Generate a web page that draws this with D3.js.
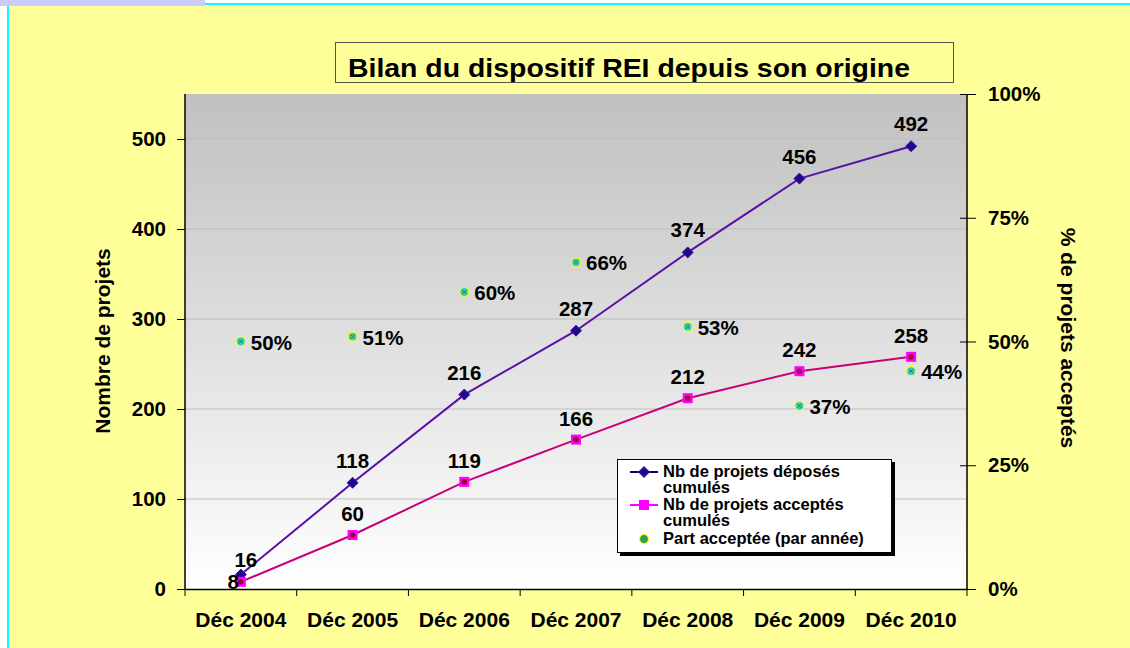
<!DOCTYPE html>
<meta charset="utf-8">
<head>
<style>
body { margin: 0; background: #fff; }
svg { display: block; }
text {
  font-family: "Liberation Sans", Arial, sans-serif;
  font-weight: bold;
  fill: #000;
}
.axis path, .axis line { stroke: #000; }
.axis text { font-family: "Liberation Sans", Arial, sans-serif; font-weight: bold; }
</style>
</head>
<body>
<svg width="1130" height="648"></svg>
<script src="https://cdn.jsdelivr.net/npm/d3@7"></script>
<script>

var years = ["Déc 2004", "Déc 2005", "Déc 2006", "Déc 2007", "Déc 2008", "Déc 2009", "Déc 2010"],
    deposes = [16, 118, 216, 287, 374, 456, 492],
    acceptes = [8, 60, 119, 166, 212, 242, 258],
    partAcceptee = [50, 51, 60, 66, 53, 37, 44];

var leftTicks = [0, 100, 200, 300, 400, 500],
    rightTicks = [0, 25, 50, 75, 100];

var svg = d3.select("svg");

// page frame
svg.append("rect").attr("x", 7).attr("y", 3).attr("width", 1123).attr("height", 645).attr("fill", "#00ffff");
svg.append("rect").attr("x", 9).attr("y", 5).attr("width", 1121).attr("height", 643).attr("fill", "#ffff99");
svg.append("rect").attr("x", 0).attr("y", 0).attr("width", 205).attr("height", 6).attr("fill", "#ccccff");

var plot = {left: 185, top: 94, right: 967, bottom: 589};

var x = d3.scaleBand().domain(years).range([plot.left, plot.right]),
    y = d3.scaleLinear().domain([0, 550]).range([plot.bottom, plot.top]),
    y2 = d3.scaleLinear().domain([0, 100]).range([plot.bottom, plot.top]);

var cx = function(i) { return x(years[i]) + x.bandwidth() / 2; };

// plot background gradient
var grad = svg.append("defs").append("linearGradient")
    .attr("id", "bg").attr("x1", 0).attr("y1", 0).attr("x2", 0).attr("y2", 1);
grad.append("stop").attr("offset", "0%").attr("stop-color", "#c0c0c0");
grad.append("stop").attr("offset", "100%").attr("stop-color", "#ffffff");

svg.append("rect")
    .attr("x", plot.left).attr("y", plot.top)
    .attr("width", plot.right - plot.left).attr("height", plot.bottom - plot.top)
    .attr("fill", "url(#bg)");

// gridlines
svg.append("g").selectAll("line")
    .data(leftTicks.filter(function(d) { return d > 0; }))
  .enter().append("line")
    .attr("x1", plot.left).attr("x2", plot.right)
    .attr("y1", function(d) { return y(d); }).attr("y2", function(d) { return y(d); })
    .attr("stroke", "#bdbdbd").attr("stroke-width", 1);

// title
svg.append("rect")
    .attr("x", 335.5).attr("y", 42.5).attr("width", 618).attr("height", 40)
    .attr("fill", "#ffff99").attr("stroke", "#555").attr("stroke-width", 1);
svg.append("text")
    .attr("x", 348).attr("y", 77)
    .attr("font-size", 26)
    .attr("textLength", 562).attr("lengthAdjust", "spacingAndGlyphs")
    .text("Bilan du dispositif REI depuis son origine");

// axes
var xAxis = svg.append("g").attr("class", "axis")
    .attr("transform", "translate(0," + plot.bottom + ")")
    .call(d3.axisBottom(x).tickSize(0).tickPadding(23));
xAxis.selectAll("text").attr("font-size", 21).attr("fill", "#000");
xAxis.select(".domain").attr("stroke-width", 1.5);
xAxis.selectAll(".sep")
    .data(d3.range(years.length + 1))
  .enter().append("line")
    .attr("x1", function(i) { return plot.left + i * x.step(); })
    .attr("x2", function(i) { return plot.left + i * x.step(); })
    .attr("y1", 0).attr("y2", 7)
    .attr("stroke", "#000");

var yAxis = svg.append("g").attr("class", "axis")
    .attr("transform", "translate(" + plot.left + ",0)")
    .call(d3.axisLeft(y).tickValues(leftTicks).tickSize(8).tickPadding(11));
yAxis.selectAll("text").attr("font-size", 20.5).attr("fill", "#000");
yAxis.select(".domain").attr("d", "M0," + plot.top + "V" + plot.bottom).attr("stroke-width", 1.5);

var y2Axis = svg.append("g").attr("class", "axis")
    .attr("transform", "translate(" + plot.right + ",0)")
    .call(d3.axisRight(y2).tickValues(rightTicks).tickSize(9).tickPadding(12)
      .tickFormat(function(d) { return d + "%"; }));
y2Axis.selectAll(".tick line").attr("x1", -7);
y2Axis.selectAll("text").attr("font-size", 20.5).attr("fill", "#000");
y2Axis.select(".domain").attr("d", "M0," + plot.top + "V" + plot.bottom).attr("stroke-width", 1.5);

svg.append("text")
    .attr("transform", "translate(110,341) rotate(-90)")
    .attr("text-anchor", "middle").attr("font-size", 21)
    .text("Nombre de projets");
svg.append("text")
    .attr("transform", "translate(1061,338) rotate(90)")
    .attr("text-anchor", "middle").attr("font-size", 21)
    .text("% de projets acceptés");

// series lines
var line = d3.line().x(function(d, i) { return cx(i); }).y(function(d) { return y(d); });

svg.append("path").datum(deposes)
    .attr("d", line).attr("fill", "none").attr("stroke", "#5a10a4").attr("stroke-width", 2);
svg.append("path").datum(acceptes)
    .attr("d", line).attr("fill", "none").attr("stroke", "#c8007a").attr("stroke-width", 2);

function diamond(g, px, py) {
  g.append("path")
      .attr("d", "M" + px + "," + (py - 5.5) + "L" + (px + 5.5) + "," + py + "L" + px + "," + (py + 5.5) + "L" + (px - 5.5) + "," + py + "Z")
      .attr("fill", "#1a0a8c").attr("stroke", "#4b10a0").attr("stroke-width", 1);
}
function square(g, px, py) {
  g.append("rect").attr("x", px - 5).attr("y", py - 5).attr("width", 10).attr("height", 10).attr("fill", "#ff00ff");
  g.append("circle").attr("cx", px).attr("cy", py).attr("r", 2.8).attr("fill", "#99002a");
}
function dot(g, px, py, fill) {
  g.append("circle").attr("cx", px).attr("cy", py).attr("r", 4.5)
      .attr("fill", fill).attr("stroke", "#ffff00").attr("stroke-width", 1.2);
}

var marks = svg.append("g");
deposes.forEach(function(d, i) { diamond(marks, cx(i), y(d)); });
acceptes.forEach(function(d, i) { square(marks, cx(i), y(d)); });
partAcceptee.forEach(function(d, i) {
  dot(marks, cx(i), y2(d), "#33cccc");
  marks.append("path")
      .attr("d", "M" + (cx(i) - 2) + "," + (y2(d) - 2) + "l4,4m0,-4l-4,4")
      .attr("stroke", "#1a7a7a").attr("stroke-width", 1);
});

// data labels
var labels = svg.append("g").attr("font-size", 20.5);
deposes.forEach(function(d, i) {
  labels.append("text")
      .attr("x", cx(i) + (i === 0 ? 5 : 0))
      .attr("y", y(d) - (i === 0 ? 8 : 15))
      .attr("text-anchor", "middle")
      .text(d);
});
acceptes.forEach(function(d, i) {
  labels.append("text")
      .attr("x", i === 0 ? cx(i) - 2 : cx(i))
      .attr("y", y(d) + (i === 0 ? 7 : -14))
      .attr("text-anchor", i === 0 ? "end" : "middle")
      .text(d);
});
partAcceptee.forEach(function(d, i) {
  labels.append("text")
      .attr("x", cx(i) + 10)
      .attr("y", y2(d) + 8)
      .text(d + "%");
});

// legend
var lg = svg.append("g").attr("transform", "translate(617,459)");
lg.append("rect").attr("x", 3).attr("y", 3).attr("width", 275).attr("height", 94).attr("fill", "#000");
lg.append("rect").attr("x", 0.5).attr("y", 0.5).attr("width", 274).attr("height", 93)
    .attr("fill", "#fff").attr("stroke", "#000").attr("stroke-width", 1);

lg.append("line").attr("x1", 13).attr("x2", 41).attr("y1", 13).attr("y2", 13).attr("stroke", "#000080").attr("stroke-width", 2);
diamond(lg, 27, 13);
lg.append("line").attr("x1", 13).attr("x2", 41).attr("y1", 46).attr("y2", 46).attr("stroke", "#ff00ff").attr("stroke-width", 2);
lg.append("rect").attr("x", 22).attr("y", 41).attr("width", 10).attr("height", 10).attr("fill", "#ff00ff");
dot(lg, 27, 80, "#339966");

var legendLines = [
  ["Nb de projets déposés", 18],
  ["cumulés", 34],
  ["Nb de projets acceptés", 51],
  ["cumulés", 67],
  ["Part acceptée (par année)", 85]
];
lg.selectAll(".lt").data(legendLines).enter().append("text")
    .attr("x", 46).attr("y", function(d) { return d[1]; })
    .attr("font-size", 16.5)
    .attr("textLength", function(d) { return d[0].length > 10 ? null : null; })
    .text(function(d) { return d[0]; });

</script>
</body>
